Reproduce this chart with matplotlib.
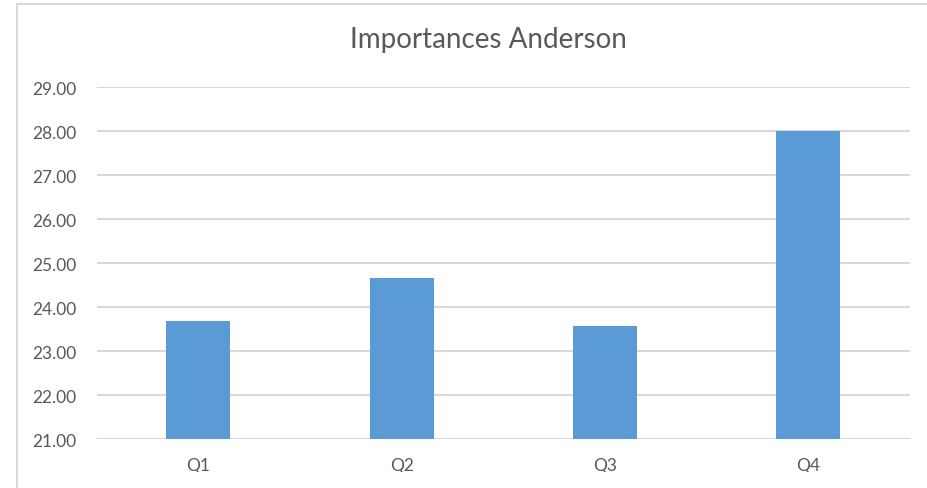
import matplotlib
matplotlib.use("Agg")
import matplotlib.pyplot as plt
from matplotlib.patches import Rectangle
from matplotlib.lines import Line2D

# data
quarters = ["Q1", "Q2", "Q3", "Q4"]
importances = [23.69, 24.66, 23.56, 28.00]
yticks = [21, 22, 23, 24, 25, 26, 27, 28, 29]

plt.rcParams['font.family'] = ['Lato', 'DejaVu Sans']

fig = plt.figure(figsize=(9.27, 4.89), dpi=100)
ax = fig.add_axes([0.1043, 0.1002, 0.8774, 0.7198])

x = range(len(quarters))
ax.bar(x, importances, width=0.315, color="#5B9BD5", zorder=3)

ax.set_xlim(-0.5, len(quarters) - 0.5)
ax.set_ylim(21, 29)
ax.set_yticks(yticks)
ax.set_yticklabels(["%.2f" % v for v in yticks])
ax.set_xticks(list(x))
ax.set_xticklabels(quarters)

ax.grid(axis="y", color="#d9d9d9", linewidth=1.5, zorder=0)
for s in ax.spines.values():
    s.set_visible(False)
ax.tick_params(axis="both", length=0, labelsize=12.5, colors="#595959")
ax.tick_params(axis="y", pad=14.5)
ax.tick_params(axis="x", pad=13)

fig.text(0.527, 0.918, "Importances Anderson", ha="center", va="center",
         fontsize=20, color="#595959")

# chart border (top and left edges visible)
fig.add_artist(Line2D([17 / 927, 1], [1 - 5 / 489, 1 - 5 / 489],
                      color="#d9d9d9", linewidth=1.5))
fig.add_artist(Line2D([17 / 927, 17 / 927], [0, 1 - 5 / 489],
                      color="#d9d9d9", linewidth=1.5))
# bottom of screenshot is cropped across the labels
fig.add_artist(Rectangle((19 / 927, 0), 1, 16 / 489, transform=fig.transFigure,
                         facecolor="white", edgecolor="none", zorder=10))

fig.savefig("out.png", dpi=100)
